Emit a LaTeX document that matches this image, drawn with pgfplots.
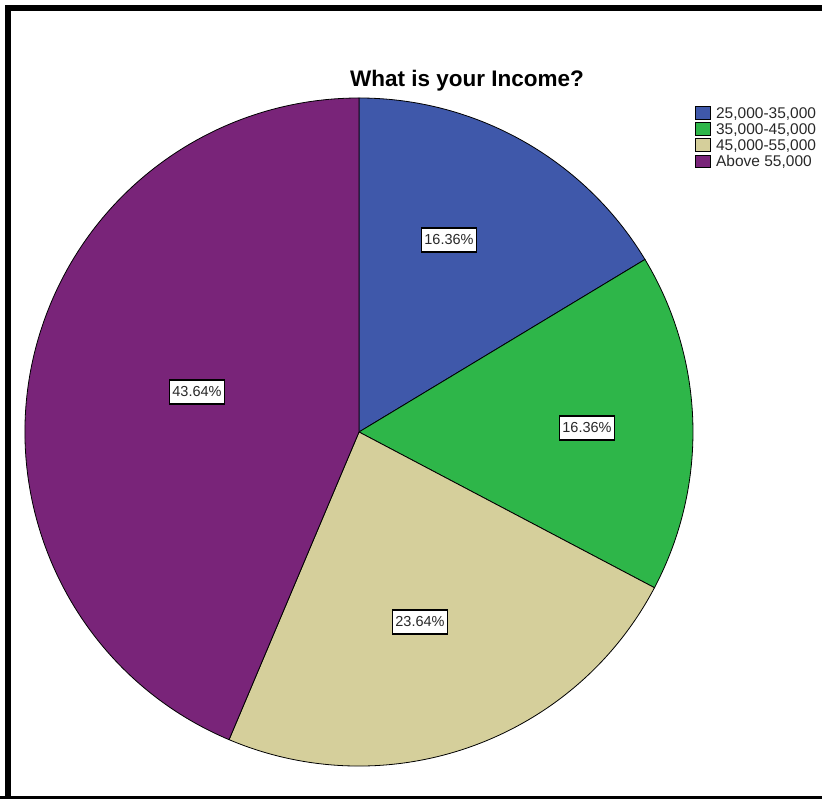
\documentclass[border=0pt]{standalone}
\usepackage{pgfplots}
\pgfplotsset{compat=1.18}
\usepackage{pgfplotstable}
\usepackage{fontspec}
\setmainfont{Liberation Sans}
\definecolor{cA}{RGB}{63,88,170}
\definecolor{cB}{RGB}{46,182,73}
\definecolor{cC}{RGB}{213,207,155}
\definecolor{cD}{RGB}{121,36,121}
\definecolor{txt}{RGB}{40,40,40}
% slice values (percent) and label positions (px, y from bottom)
\pgfplotstableread{
value lx ly
16.36 449 559
16.36 587 371
23.64 420 177
43.64 197 407
}\piedata
\pgfplotstablegetelem{0}{value}\of\piedata \let\vA\pgfplotsretval
\pgfplotstablegetelem{1}{value}\of\piedata \let\vB\pgfplotsretval
\pgfplotstablegetelem{2}{value}\of\piedata \let\vC\pgfplotsretval
\pgfplotstablegetelem{3}{value}\of\piedata \let\vD\pgfplotsretval
\pgfmathsetmacro\aA{90}
\pgfmathsetmacro\aB{\aA-3.6*\vA}
\pgfmathsetmacro\aC{\aB-3.6*\vB}
\pgfmathsetmacro\aD{\aC-3.6*\vC}
\pgfmathsetmacro\aE{\aD-3.6*\vD}
\pgfplotstablegetelem{0}{lx}\of\piedata \let\xA\pgfplotsretval
\pgfplotstablegetelem{0}{ly}\of\piedata \let\yA\pgfplotsretval
\pgfplotstablegetelem{1}{lx}\of\piedata \let\xB\pgfplotsretval
\pgfplotstablegetelem{1}{ly}\of\piedata \let\yB\pgfplotsretval
\pgfplotstablegetelem{2}{lx}\of\piedata \let\xC\pgfplotsretval
\pgfplotstablegetelem{2}{ly}\of\piedata \let\yC\pgfplotsretval
\pgfplotstablegetelem{3}{lx}\of\piedata \let\xD\pgfplotsretval
\pgfplotstablegetelem{3}{ly}\of\piedata \let\yD\pgfplotsretval
\begin{document}
\begin{tikzpicture}
\begin{axis}[
  scale only axis, width=822pt, height=799pt,
  xmin=0, xmax=822, ymin=0, ymax=799,
  axis lines=none, clip=false,
  legend style={at={(axis cs:695,693)}, anchor=north west, draw=none, fill=none,
    font=\fontsize{15.5}{17}\selectfont\color{txt}, row sep=1.5pt, column sep=4pt, inner sep=0pt,
    nodes={inner sep=1pt, anchor=west}},
  legend cell align=left,
]
\addlegendimage{legend image code/.code={\draw[fill=cA, draw=black, line width=0.9pt] (0pt,-5.5pt) rectangle (15pt,7pt);}}\addlegendentry{25,000-35,000}
\addlegendimage{legend image code/.code={\draw[fill=cB, draw=black, line width=0.9pt] (0pt,-5.5pt) rectangle (15pt,7pt);}}\addlegendentry{35,000-45,000}
\addlegendimage{legend image code/.code={\draw[fill=cC, draw=black, line width=0.9pt] (0pt,-5.5pt) rectangle (15pt,7pt);}}\addlegendentry{45,000-55,000}
\addlegendimage{legend image code/.code={\draw[fill=cD, draw=black, line width=0.9pt] (0pt,-5.5pt) rectangle (15pt,7pt);}}\addlegendentry{Above 55,000}
\coordinate (bl) at (axis cs:0,0);
\coordinate (tr) at (axis cs:822,799);
% frame
\draw[line width=6pt] (axis cs:8,-10) -- (axis cs:8,791) -- (axis cs:830,791);
\draw[line width=4pt] (axis cs:0,1) -- (axis cs:830,1);
% slices
\filldraw[fill=cA, draw=black, line width=0.8pt] (axis cs:359,367) -- ++(\aA:334) arc[start angle=\aA, end angle=\aB, radius=334pt] -- cycle;
\filldraw[fill=cB, draw=black, line width=0.8pt] (axis cs:359,367) -- ++(\aB:334) arc[start angle=\aB, end angle=\aC, radius=334pt] -- cycle;
\filldraw[fill=cC, draw=black, line width=0.8pt] (axis cs:359,367) -- ++(\aC:334) arc[start angle=\aC, end angle=\aD, radius=334pt] -- cycle;
\filldraw[fill=cD, draw=black, line width=0.8pt] (axis cs:359,367) -- ++(\aD:334) arc[start angle=\aD, end angle=\aE, radius=334pt] -- cycle;
% labels
\tikzset{lab/.style={fill=white, draw=black, line width=1.3pt, inner xsep=3pt, minimum height=24pt, text=txt, font=\fontsize{14.5}{16}\selectfont}}
\node[lab] at (axis cs:\xA,\yA) {\vA\%};
\node[lab] at (axis cs:\xB,\yB) {\vB\%};
\node[lab] at (axis cs:\xC,\yC) {\vC\%};
\node[lab] at (axis cs:\xD,\yD) {\vD\%};
% title
\node[font=\fontsize{22.5}{26}\selectfont\bfseries, text=black] at (axis cs:467,718) {What is your Income?};
\end{axis}
\pgfresetboundingbox
\path (bl) rectangle (tr);
\end{tikzpicture}
\end{document}
